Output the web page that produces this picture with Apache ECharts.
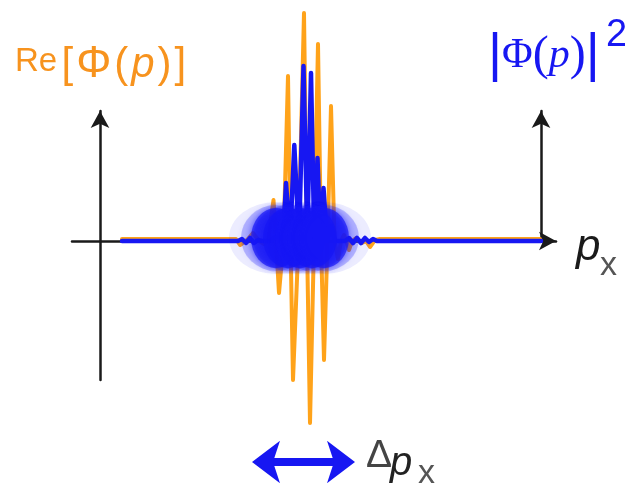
<!DOCTYPE html>
<html>
<head>
<meta charset="utf-8">
<script src="https://cdn.jsdelivr.net/npm/echarts@6/dist/echarts.min.js"></script>
<style>
  html, body { margin: 0; padding: 0; background: #fff; }
  #main { width: 625px; height: 484px; }
</style>
</head>
<body>
<div id="main"></div>
<script>
// p is measured from the left axis, amplitude from the p axis (up = +)
// Re[Φ(p)] - orange oscillation
var reP   = [22, 136, 140, 147, 153, 159, 164, 168, 173.5, 176, 179, 183.5, 188, 190.5, 193, 198.5,
             204, 207, 210, 214, 218, 221, 224, 227.5, 231, 234.5, 238, 241, 244, 246.5, 249, 252,
             256, 262, 266, 270, 275, 280, 440];
var reAmp = [2, 2, -4, 1, 8, 0, -3, 0, 41, 0, -52, 0, 165, 0, -139, 0,
             228, 0, -182, 0, 197, 0, -119, 0, 135, 0, -18, 0, 6, 0, -9, 0,
             3, -2, 0, -6, 1, 2, 2];

// |Φ(p)|^2 - blue
var absP   = [22, 138, 142, 146, 150, 154, 158, 162, 170, 175, 179, 183, 186, 190, 194.3, 199,
              203.5, 207.3, 211, 214.3, 217.5, 220.5, 223.5, 227, 231, 235, 245, 249, 253, 257, 261, 265,
              269, 273, 277, 441];
var absAmp = [0, 0, 2, -2, 3, -2, 1, 0, 0, 4, 10, 0, 58, 0, 96, 0,
              175, 4, 168, 0, 83, 0, 53, 0, 15, 0, 0, 3, -2, 3, -2, 3,
              -1, 2, 0, 0];

// fuzzy blob of the packet around the p axis
var blobP   = [176, 188, 200, 212, 224];
var blobAmp = [3, 3, 3, 3, 3];

// Δp arrow span and the level where it sits
var deltaP = [157, 250];
var deltaLevel = -221;

var ORANGE = '#ffa31a';
var ORANGE_TXT = '#f7931e';
var BLUE = '#1717f2';
var AXIS = '#1a1a1a';

function zip(a, b) {
  return a.map(function (v, i) { return [v, b[i]]; });
}

var chart = echarts.init(document.getElementById('main'));

function blobLayer(name, size, color, z) {
  return {
    name: name, type: 'scatter', data: zip(blobP, blobAmp), symbol: 'circle',
    symbolSize: size, clip: false, z: z, silent: true,
    itemStyle: { color: color, shadowBlur: 6, shadowColor: color }
  };
}

var orangeTok = { color: ORANGE_TXT, fontFamily: 'Liberation Sans', fontSize: 42, padding: [0, 1.5] };

chart.setOption({
  animation: false,
  backgroundColor: '#fff',
  title: [
    { text: 'Re', left: 15, top: 45, padding: 0,
      textStyle: { fontSize: 33, fontWeight: 'normal', color: ORANGE_TXT, fontFamily: 'Liberation Sans' } },
    { text: '{o|[}{f|Φ}{o|(}{i|p}{o|)}{o|]}', left: 60, top: 43, padding: 0,
      textStyle: { fontSize: 42, fontWeight: 'normal', color: ORANGE_TXT, fontFamily: 'Liberation Sans',
        rich: {
          o: orangeTok,
          f: Object.assign({}, orangeTok, { fontSize: 44 }),
          i: Object.assign({}, orangeTok, { fontStyle: 'italic' })
        } } },
    { text: '{b||}{f|Φ}{q|(}{p|p}{q|)}{b||}', left: 488, top: 29, padding: 0,
      textStyle: { fontSize: 42, fontWeight: 'normal', color: BLUE,
        rich: {
          b: { fontSize: 54, color: BLUE, fontFamily: 'Liberation Sans' },
          f: { fontSize: 42, color: BLUE, fontFamily: 'Liberation Serif' },
          q: { fontSize: 48, color: BLUE, fontFamily: 'Liberation Serif' },
          p: { fontSize: 42, fontStyle: 'italic', color: BLUE, fontFamily: 'Liberation Serif' }
        } } },
    { text: '2', left: 606, top: 17, padding: 0,
      textStyle: { fontSize: 38, fontWeight: 'normal', color: BLUE, fontFamily: 'Liberation Sans' } },
    { text: 'p', left: 576, top: 226, padding: 0,
      textStyle: { fontSize: 44, fontWeight: 'normal', fontStyle: 'italic', color: '#1a1a1a', fontFamily: 'Liberation Sans' } },
    { text: 'x', left: 600, top: 249, padding: 0,
      textStyle: { fontSize: 34, fontWeight: 'normal', color: '#555', fontFamily: 'Liberation Sans' } },
    { text: 'Δ', left: 366, top: 437, padding: 0,
      textStyle: { fontSize: 39, fontWeight: 'normal', color: '#444', fontFamily: 'Liberation Sans' } },
    { text: 'p', left: 390, top: 444, padding: 0,
      textStyle: { fontSize: 40, fontWeight: 'normal', fontStyle: 'italic', color: '#222', fontFamily: 'Liberation Sans' } },
    { text: 'x', left: 418, top: 457, padding: 0,
      textStyle: { fontSize: 34, fontWeight: 'normal', color: '#555', fontFamily: 'Liberation Sans' } }
  ],
  grid: [
    { left: 72, right: 69, top: 111, bottom: 104 },
    { left: 541, top: 111, height: 130, width: 20 }
  ],
  xAxis: [
    { type: 'value', gridIndex: 0, min: -28, max: 456,
      axisLine: { show: true, onZero: true, symbol: ['none', 'arrow'], symbolSize: [14, 17],
                  lineStyle: { color: AXIS, width: 2.5 } },
      axisTick: { show: false }, axisLabel: { show: false }, splitLine: { show: false } },
    { type: 'value', gridIndex: 1, show: false, min: 0, max: 1 }
  ],
  yAxis: [
    { type: 'value', gridIndex: 0, min: -139, max: 130,
      axisLine: { show: true, onZero: true, symbol: ['none', 'arrow'], symbolSize: [14, 17],
                  lineStyle: { color: AXIS, width: 2.5 } },
      axisTick: { show: false }, axisLabel: { show: false }, splitLine: { show: false } },
    { type: 'value', gridIndex: 1, min: 0, max: 1, position: 'left',
      axisLine: { show: true, onZero: false, symbol: ['none', 'arrow'], symbolSize: [14, 17],
                  lineStyle: { color: AXIS, width: 2.5 } },
      axisTick: { show: false }, axisLabel: { show: false }, splitLine: { show: false } }
  ],
  series: [
    {
      name: 'Re', type: 'line', data: zip(reP, reAmp), showSymbol: false, symbol: 'none',
      clip: false, z: 2, silent: true,
      lineStyle: { color: ORANGE, width: 4, join: 'round', cap: 'round' }
    },
    {
      name: 'abs', type: 'line', data: zip(absP, absAmp), showSymbol: false, symbol: 'none',
      clip: false, z: 3, silent: true,
      lineStyle: { color: BLUE, width: 4.5, join: 'round', cap: 'round' }
    },
    blobLayer('halo', [94, 72], 'rgba(40,40,255,0.10)', 4),
    blobLayer('mid', [70, 66], 'rgba(30,30,250,0.25)', 5),
    blobLayer('core', [50, 60], 'rgba(22,22,245,0.85)', 6),
    {
      name: 'dp', type: 'line', clip: false, z: 7, silent: true,
      symbol: 'arrow', symbolSize: [32, 28], showSymbol: true,
      itemStyle: { color: BLUE },
      lineStyle: { color: BLUE, width: 8 },
      data: [
        { value: [deltaP[0], deltaLevel], symbolRotate: 90, symbolOffset: [-5, 0] },
        { value: [deltaP[1], deltaLevel], symbolRotate: -90, symbolOffset: [5, 0] }
      ]
    }
  ]
});
</script>
</body>
</html>
